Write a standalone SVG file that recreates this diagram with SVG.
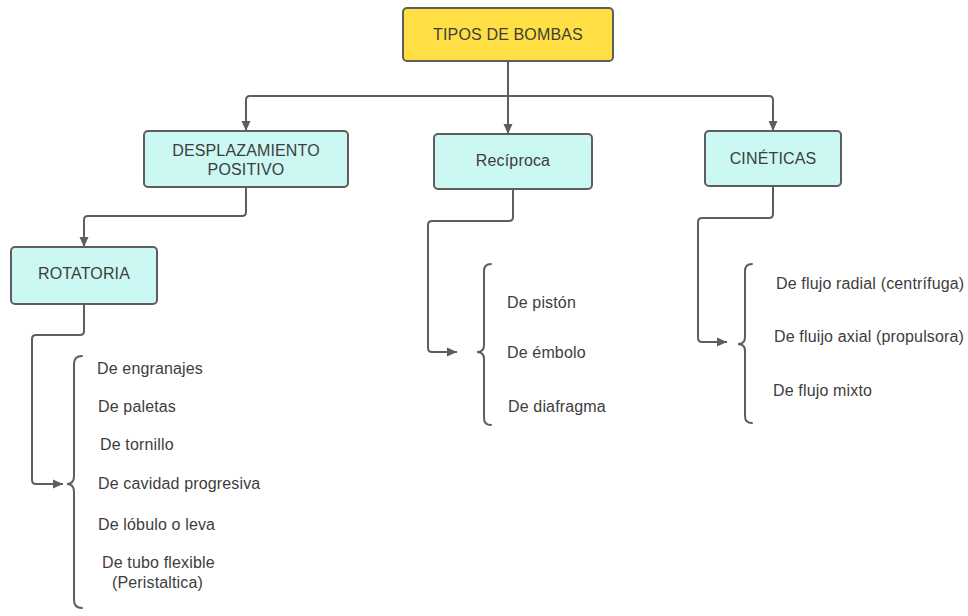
<svg xmlns="http://www.w3.org/2000/svg" width="968" height="616" viewBox="0 0 968 616">
  <defs>
    <marker id="arrow" viewBox="0 0 10 10" refX="10" refY="5" markerWidth="10" markerHeight="10" markerUnits="userSpaceOnUse" orient="auto">
      <path d="M0,0.5 L10,5 L0,9.5 Z" fill="#5e5e5e"/>
    </marker>
  </defs>
  <style>
    .box { stroke: #5e5e5e; stroke-width: 2; }
    .root { fill: #ffdf43; }
    .cat { fill: #ccf8f3; }
    .lbl { font-family: "Liberation Sans", Arial, sans-serif; font-size: 16px; fill: #3d3d3d; letter-spacing: 0.15px; }
    .mid { text-anchor: middle; }
    .conn { fill: none; stroke: #5e5e5e; stroke-width: 2; }
    .brace { fill: none; stroke: #5e5e5e; stroke-width: 2; stroke-linecap: round; }
  </style>
  <rect width="968" height="616" fill="#ffffff"/>

  <!-- connectors -->
  <g id="connectors">
    <path class="conn" d="M508,61 V134" marker-end="url(#arrow)"/>
    <path class="conn" d="M508,96 H250 Q246,96 246,100 V131" marker-end="url(#arrow)"/>
    <path class="conn" d="M508,96 H769 Q773,96 773,100 V131" marker-end="url(#arrow)"/>
    <path class="conn" d="M246,187 V212 Q246,216 242,216 H88 Q84,216 84,220 V247" marker-end="url(#arrow)"/>
    <path class="conn" d="M84,304 V331 Q84,335 80,335 H36 Q32,335 32,339 V480 Q32,484 36,484 H63" marker-end="url(#arrow)"/>
    <path class="conn" d="M513,189 V217 Q513,221 509,221 H432 Q428,221 428,225 V348 Q428,352 432,352 H457" marker-end="url(#arrow)"/>
    <path class="conn" d="M773,186 V214 Q773,218 769,218 H702 Q698,218 698,222 V338 Q698,342 702,342 H727" marker-end="url(#arrow)"/>
  </g>

  <!-- category boxes -->
  <g id="tipos-de-bombas">
    <rect class="box root" x="403" y="8" width="210" height="53" rx="4"/>
    <text class="lbl mid" x="508" y="40">TIPOS DE BOMBAS</text>
  </g>
  <g id="desplazamiento-positivo">
    <rect class="box cat" x="144" y="131" width="204" height="56" rx="4"/>
    <text class="lbl mid" x="246" y="156">DESPLAZAMIENTO</text>
    <text class="lbl mid" x="246" y="175">POSITIVO</text>
  </g>
  <g id="reciproca">
    <rect class="box cat" x="434" y="134" width="158" height="55" rx="4"/>
    <text class="lbl mid" x="513" y="166">Recíproca</text>
  </g>
  <g id="cineticas">
    <rect class="box cat" x="705" y="131" width="136" height="55" rx="4"/>
    <text class="lbl mid" x="773" y="164">CINÉTICAS</text>
  </g>
  <g id="rotatoria">
    <rect class="box cat" x="11" y="247" width="146" height="57" rx="4"/>
    <text class="lbl mid" x="84" y="279">ROTATORIA</text>
  </g>

  <!-- rotary pump list -->
  <g id="lista-rotatoria">
    <path class="brace" d="M82,356 Q74,356 74,364 V476 Q74,484 67,484 Q74,484 74,492 V600 Q74,608 82,608"/>
    <text class="lbl" x="97" y="374">De engranajes</text>
    <text class="lbl" x="98" y="412">De paletas</text>
    <text class="lbl" x="100" y="450">De tornillo</text>
    <text class="lbl" x="98" y="489">De cavidad progresiva</text>
    <text class="lbl" x="98" y="530">De lóbulo o leva</text>
    <text class="lbl" x="102" y="568">De tubo flexible</text>
    <text class="lbl" x="112" y="588">(Peristaltica)</text>
  </g>

  <!-- reciprocating pump list -->
  <g id="lista-reciproca">
    <path class="brace" d="M491,264 Q484,264 484,271 V345 Q484,352 477,352 Q484,352 484,359 V418 Q484,425 491,425"/>
    <text class="lbl" x="507" y="308">De pistón</text>
    <text class="lbl" x="507" y="358">De émbolo</text>
    <text class="lbl" x="508" y="412">De diafragma</text>
  </g>

  <!-- kinetic pump list -->
  <g id="lista-cineticas">
    <path class="brace" d="M752,264 Q745,264 745,271 V337 Q745,344 738,344 Q745,344 745,351 V416 Q745,423 752,423"/>
    <text class="lbl" x="776" y="289">De flujo radial (centrífuga)</text>
    <text class="lbl" x="774" y="342">De fluijo axial (propulsora)</text>
    <text class="lbl" x="773" y="396">De flujo mixto</text>
  </g>
</svg>
